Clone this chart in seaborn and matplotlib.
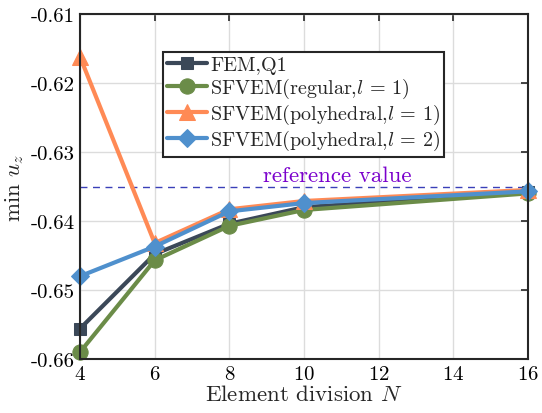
import numpy as np
import pandas as pd
import matplotlib
matplotlib.use('Agg')
import matplotlib.pyplot as plt
import seaborn as sns

# data
N = [4, 6, 8, 10, 16]
fem_q1 = [-0.6556, -0.6448, -0.6404, -0.6380, -0.6358]
sfvem_reg_l1 = [-0.6590, -0.6457, -0.6407, -0.6384, -0.6360]
sfvem_poly_l1 = [-0.6162, -0.6432, -0.6383, -0.6371, -0.6355]
sfvem_poly_l2 = [-0.6480, -0.6437, -0.6386, -0.6374, -0.6357]
ref_value = -0.635

labels = ['FEM,Q1', r'SFVEM(regular,$l$ = 1)',
          r'SFVEM(polyhedral,$l$ = 1)', r'SFVEM(polyhedral,$l$ = 2)']
colors = ['#3b4858', '#6b8c48', '#ff8a55', '#4f90cd']
markers = ['s', 'o', '^', 'D']
msizes = [9, 11, 11, 9]

sns.set_theme(style='whitegrid')
plt.rcParams['font.family'] = 'serif'
plt.rcParams['font.serif'] = ['cmr10']
plt.rcParams['mathtext.fontset'] = 'cm'
plt.rcParams['axes.unicode_minus'] = False
plt.rcParams['axes.formatter.use_mathtext'] = True

fig = plt.figure(figsize=(5.42, 4.14), dpi=100)
ax = fig.add_axes([0.1476, 0.1304, 0.8266, 0.8334])

series = [fem_q1, sfvem_reg_l1, sfvem_poly_l1, sfvem_poly_l2]
for vals, lab, c, m, ms in zip(series, labels, colors, markers, msizes):
    df = pd.DataFrame({'N': N, 'u': vals})
    sns.lineplot(data=df, x='N', y='u', ax=ax, color=c, marker=m, markersize=ms,
                 markeredgecolor=c, linewidth=3, label=lab, clip_on=False, zorder=3)

ax.axhline(ref_value, color='#3a3fb8', linestyle=(0, (5, 4)), linewidth=1, zorder=2)
ax.text(10.9, ref_value + 0.0002, 'reference value', color='#7a00cc',
        fontsize=16.5, ha='center', va='bottom')

ax.set_xlim(4, 16)
ax.set_ylim(-0.66, -0.61)
ax.set_xticks([4, 6, 8, 10, 12, 14, 16])
ax.set_yticks([-0.61, -0.62, -0.63, -0.64, -0.65, -0.66])
ax.set_yticklabels(['-0.61', '-0.62', '-0.63', '-0.64', '-0.65', '-0.66'])
ax.set_xlabel(r'Element division $N$', fontsize=16.5, labelpad=1)
ax.set_ylabel(r'min $u_z$', fontsize=16.5, labelpad=3)

ax.set_facecolor('white')
ax.grid(True, color='#dcdcdc', linewidth=1)
for s in ax.spines.values():
    s.set_color('#262626')
    s.set_linewidth(1.5)
    s.set_zorder(4)
ax.tick_params(direction='in', length=5, width=1.2, top=True, right=True,
               labelsize=15, colors='#262626', pad=4)
ax.tick_params(axis='both', labelcolor='black')

leg = ax.legend(loc='upper left', bbox_to_anchor=(0.185, 0.89), borderaxespad=0,
                fontsize=14.5, frameon=True, fancybox=False, edgecolor='#262626',
                handlelength=2.0, handletextpad=0.15, borderpad=0.2,
                labelspacing=0.1, framealpha=1)
leg.get_frame().set_linewidth(1.5)

fig.savefig('out.png', dpi=100)
